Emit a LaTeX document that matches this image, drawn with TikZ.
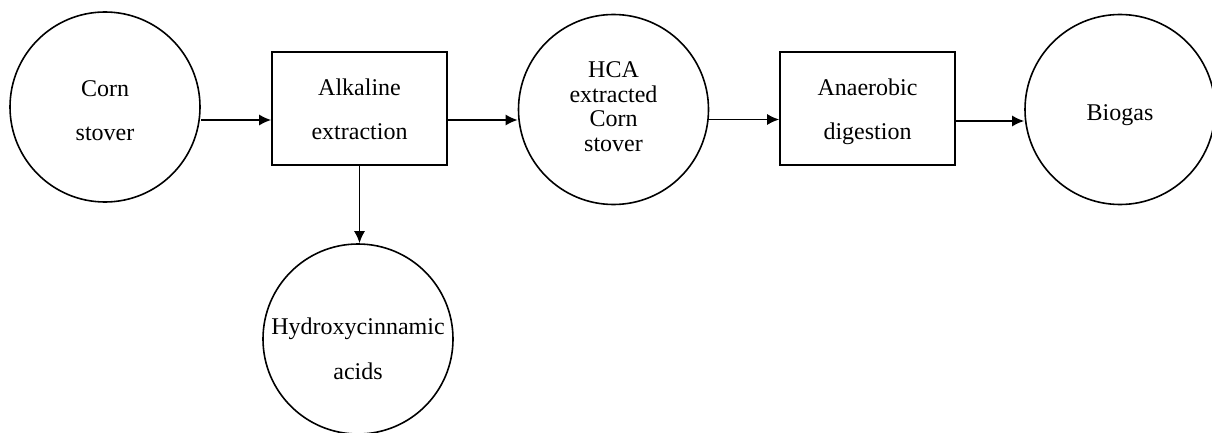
\documentclass[tikz,border=0pt]{standalone}
\usepackage{fontspec}
\setmainfont{Liberation Serif}
\usetikzlibrary{arrows.meta}
\begin{document}
\begin{tikzpicture}[x=1pt,y=-1pt,
  every node/.style={font=\fontsize{24}{44}\selectfont, align=center, inner sep=0pt},
  every label/.style={font=\fontsize{24}{44}\selectfont, align=center, inner sep=0pt},
  circ/.style={draw, circle, line width=1.6pt, minimum size=190pt},
  stepbox/.style={draw, rectangle, line width=1.6pt, minimum width=175pt, minimum height=113pt},
  arr/.style={line width=1.6pt, -{Latex[length=12pt,width=11pt]}}]
\useasboundingbox (0,0) rectangle (1212,433);
\fill[white] (0,0) rectangle (1212,433);
\node[circ, label={[yshift=-4pt]center:Corn\\stover}] (c1) at (105,107) {};
\node[stepbox, label={[yshift=-1pt]center:Alkaline\\extraction}] (b1) at (359.5,108.5) {};
\node[circ, label={[yshift=3pt, font=\fontsize{24}{24.5}\selectfont]center:HCA\\extracted\\Corn\\stover}] (c2) at (613.5,109.5) {};
\node[stepbox, label={[yshift=-3pt]center:Anaerobic\\digestion}] (b2) at (867.5,108.5) {};
\node[circ, label={[yshift=-6pt]center:Biogas}] (c3) at (1120,109.5) {};
\node[circ, label={[yshift=-10pt, font=\fontsize{24}{45}\selectfont]center:Hydroxycinnamic\\acids}] (c4) at (358,339) {};
\draw[arr] ([yshift=-13pt]c1.east) -- ([yshift=-13pt]c1.east -| b1.west);
\draw[arr] ([yshift=-11.5pt]b1.east) -- ([yshift=-11.5pt]b1.east -| c2.west);
\draw[arr] ([yshift=-10pt]c2.east) -- ([yshift=-10pt]c2.east -| b2.west);
\draw[arr] ([yshift=-12.5pt]b2.east) -- ([yshift=-12.5pt]b2.east -| c3.west);
\draw[arr] (b1.south) -- (b1.south |- c4.north);
\end{tikzpicture}
\end{document}
